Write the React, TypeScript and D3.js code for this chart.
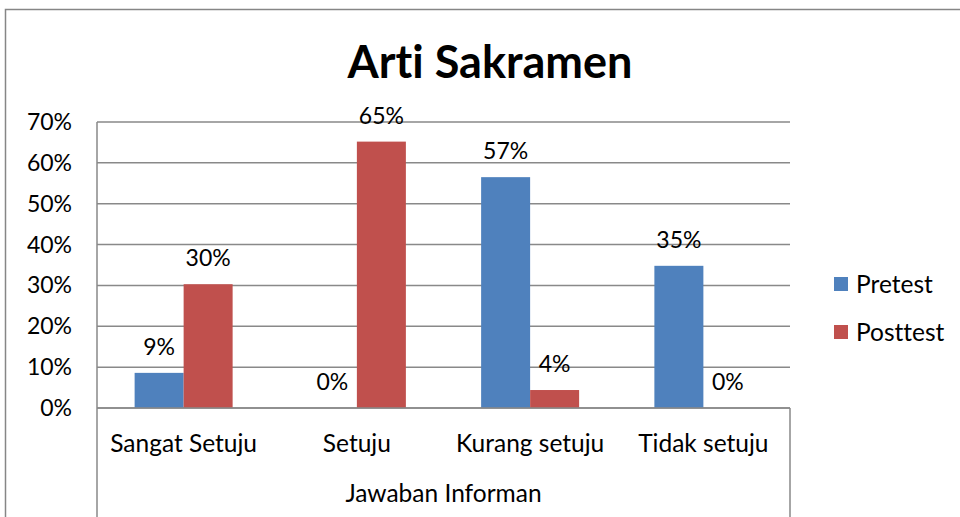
import React from "react";
import * as d3 from "d3";

const categories = ["Sangat Setuju", "Setuju", "Kurang setuju", "Tidak setuju"];
const seriesNames = ["Pretest", "Posttest"];
const pretest = [8.6, 0, 56.5, 34.8];
const posttest = [30.3, 65.2, 4.4, 0];
const pretestLabels = ["9%", "0%", "57%", "35%"];
const posttestLabels = ["30%", "65%", "4%", "0%"];
const yTicks = [0, 10, 20, 30, 40, 50, 60, 70];
const colors = ["#4F81BD", "#C0504D"];
const title = "Arti Sakramen";
const axisTitle = "Jawaban Informan";

export default function App() {
  const W = 960, H = 517;
  const left = 97, right = 790, top = 122, bottom = 408;
  const x = d3.scaleBand<string>().domain(categories).range([left, right]);
  const gw = 98;
  const xs = d3.scaleBand<string>().domain(seriesNames).range([0, gw]);
  const y = d3.scaleLinear().domain([0, 70]).range([bottom, top]);
  const font = "Lato, 'Open Sans', sans-serif";
  const series = [pretest, posttest];
  const labels = [pretestLabels, posttestLabels];
  const grid = "#898989";
  return (
    <svg width={W} height={H} style={{ position: "absolute", left: 0, top: 0, fontVariantLigatures: "none", fontFeatureSettings: "'liga' 0, 'clig' 0" }} fontFamily={font}>
      <rect x={0} y={0} width={W} height={H} fill="#fff" />
      <rect x={5.5} y={9.5} width={W + 10} height={H + 10} fill="none" stroke="#868686" strokeWidth={1.5} />
      <text x={490} y={62} dy="0.35em" textAnchor="middle" fontSize={45} fontWeight="bold" fill="#000">{title}</text>
      {yTicks.map((t) => (
        <g key={t}>
          <line x1={left} x2={right} y1={y(t)} y2={y(t)} stroke={grid} strokeWidth={1.5} />
          <text x={72} y={y(t)} dy="0.35em" textAnchor="end" fontSize={23} fill="#000">{t}%</text>
        </g>
      ))}
      <line x1={left} x2={left} y1={top} y2={H} stroke={grid} strokeWidth={1.5} />
      <line x1={right} x2={right} y1={bottom} y2={H} stroke={grid} strokeWidth={1.5} />
      {categories.map((c, i) => {
        const x0 = (x(c) as number) + (x.bandwidth() - gw) / 2;
        return (
          <g key={c}>
            {series.map((s, j) => {
              const bx = x0 + (xs(seriesNames[j]) as number);
              return (
                <g key={j}>
                  {s[i] > 0 && (
                    <rect x={bx} y={y(s[i])} width={xs.bandwidth()} height={bottom - y(s[i])} fill={colors[j]} />
                  )}
                  <text x={bx + xs.bandwidth() / 2} y={y(s[i]) - 26} dy="0.35em" textAnchor="middle" fontSize={23} fill="#000">{labels[j][i]}</text>
                </g>
              );
            })}
            <text x={(x(c) as number) + x.bandwidth() / 2} y={443} dy="0.35em" textAnchor="middle" fontSize={24.5} fill="#000">{c}</text>
          </g>
        );
      })}
      <line x1={left} x2={right} y1={bottom} y2={bottom} stroke={grid} strokeWidth={1.5} />
      <text x={(left + right) / 2} y={493} dy="0.35em" textAnchor="middle" fontSize={24.5} fill="#000">{axisTitle}</text>
      {seriesNames.map((n, j) => (
        <g key={n}>
          <rect x={834} y={277 + j * 48} width={14} height={14} fill={colors[j]} />
          <text x={856} y={284 + j * 48} dy="0.35em" fontSize={24.5} fill="#000">{n}</text>
        </g>
      ))}
    </svg>
  );
}
